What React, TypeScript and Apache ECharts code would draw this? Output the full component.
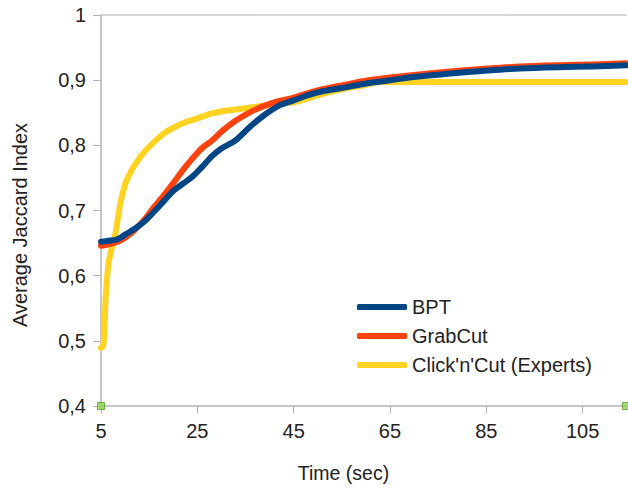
import React, { useEffect, useRef } from "react";
import * as echarts from "echarts";

const xTicks = [5, 25, 45, 65, 85, 105];
const yTicks = [0.4, 0.5, 0.6, 0.7, 0.8, 0.9, 1];

const seriesNames = ["BPT", "GrabCut", "Click'n'Cut (Experts)"];
const colors = ["#004586", "#ff420e", "#ffd320"];

const timeAB = [5, 6, 7, 8, 9, 10, 12, 14, 16, 18, 20, 22, 24, 26, 28, 30, 33, 36, 39, 42, 45, 48, 51, 55, 60, 65, 70, 77, 84, 92, 100, 107, 114];
const bpt = [0.652, 0.653, 0.654, 0.655, 0.658, 0.663, 0.672, 0.683, 0.698, 0.714, 0.73, 0.741, 0.752, 0.767, 0.783, 0.795, 0.808, 0.829, 0.847, 0.861, 0.869, 0.877, 0.883, 0.888, 0.895, 0.9, 0.905, 0.91, 0.914, 0.918, 0.92, 0.921, 0.923];
const grabCut = [0.646, 0.647, 0.649, 0.651, 0.654, 0.658, 0.67, 0.686, 0.705, 0.723, 0.742, 0.762, 0.78, 0.796, 0.807, 0.821, 0.838, 0.851, 0.861, 0.868, 0.873, 0.88, 0.886, 0.892, 0.899, 0.904, 0.908, 0.913, 0.917, 0.921, 0.923, 0.924, 0.926];

const timeC = [5, 5.5, 6, 6.5, 7, 8, 9, 10, 11, 12, 14, 16, 18, 20, 22, 24, 26, 28, 30, 33, 36, 39, 42, 45, 48, 51, 55, 60, 63, 70, 80, 90, 100, 114];
const clickNCut = [0.489, 0.493, 0.57, 0.615, 0.635, 0.665, 0.71, 0.74, 0.757, 0.77, 0.79, 0.805, 0.818, 0.827, 0.834, 0.839, 0.844, 0.849, 0.852, 0.855, 0.858, 0.861, 0.864, 0.866, 0.872, 0.879, 0.886, 0.893, 0.897, 0.897, 0.897, 0.897, 0.897, 0.897];

const xMin = xTicks[0];
const xMax = 114;
const markerPoints = [[xMin, 0.4], [xMax, 0.4]];

const font = "'Liberation Sans', Arial, sans-serif";

export default function App() {
  const ref = useRef<HTMLDivElement>(null);
  useEffect(() => {
    if (!ref.current) return;
    const chart = echarts.init(ref.current, null, { renderer: "svg" });
    const pair = (xs: number[], ys: number[]) => xs.map((x, i) => [x, ys[i]]);
    const lineSeries = (name: string, data: number[][], color: string, z: number) => ({
      name,
      type: "line",
      data,
      showSymbol: false,
      symbol: "none",
      smooth: 0.3,
      z,
      lineStyle: { color, width: 6, cap: "round", join: "round" },
      itemStyle: { color },
    });
    chart.setOption({
      animation: false,
      textStyle: { fontFamily: font },
      grid: { left: 101, right: 2, top: 15, bottom: 85 },
      legend: {
        data: seriesNames,
        orient: "vertical",
        left: 352,
        top: 292,
        icon: "roundRect",
        itemWidth: 50,
        itemHeight: 6,
        itemGap: 9,
        textStyle: { fontSize: 20, color: "#222", fontFamily: font },
      },
      xAxis: [
        {
          type: "value",
          min: xMin,
          max: xMax,
          interval: 20,
          name: "Time (sec)",
          nameLocation: "middle",
          nameGap: 57,
          nameTextStyle: { fontSize: 19.5, color: "#222", padding: [0, 40, 0, 0] },
          axisLine: { show: true, lineStyle: { color: "#b3b3b3", width: 1.5 } },
          axisTick: { show: true, length: 7, lineStyle: { color: "#b3b3b3" } },
          axisLabel: { fontSize: 20, color: "#222", margin: 15, showMaxLabel: false },
          splitLine: { show: false },
        },
        {
          type: "value",
          position: "top",
          min: xMin,
          max: xMax,
          axisLine: { show: true, lineStyle: { color: "#c8c8c8", width: 1.5 } },
          axisTick: { show: false },
          axisLabel: { show: false },
          splitLine: { show: false },
        },
      ],
      yAxis: {
        type: "value",
        min: yTicks[0],
        max: yTicks[yTicks.length - 1],
        interval: 0.1,
        name: "Average Jaccard Index",
        nameLocation: "middle",
        nameGap: 71,
        nameTextStyle: { fontSize: 20, color: "#222", padding: [0, 29, 0, 0] },
        axisLine: { show: true, lineStyle: { color: "#b3b3b3", width: 1.5 } },
        axisTick: { show: true, length: 8, lineStyle: { color: "#b3b3b3" } },
        axisLabel: {
          fontSize: 20,
          color: "#222",
          margin: 15,
          formatter: (v: number) => (Math.abs(v - 1) < 1e-9 ? "1" : v.toFixed(1).replace(".", ",")),
        },
        splitLine: { show: false },
      },
      series: [
        lineSeries(seriesNames[2], pair(timeC, clickNCut), colors[2], 2),
        lineSeries(seriesNames[1], pair(timeAB, grabCut), colors[1], 3),
        lineSeries(seriesNames[0], pair(timeAB, bpt), colors[0], 4),
        {
          name: "markers",
          type: "scatter",
          data: markerPoints,
          symbol: "rect",
          symbolSize: 7,
          z: 5,
          itemStyle: { color: "#8fd14f", borderColor: "#5a9e2b", borderWidth: 1 },
          clip: false,
        },
      ],
    });
    return () => chart.dispose();
  }, []);
  return <div ref={ref} style={{ width: 628, height: 491, position: "absolute", left: 0, top: 0 }} />;
}
